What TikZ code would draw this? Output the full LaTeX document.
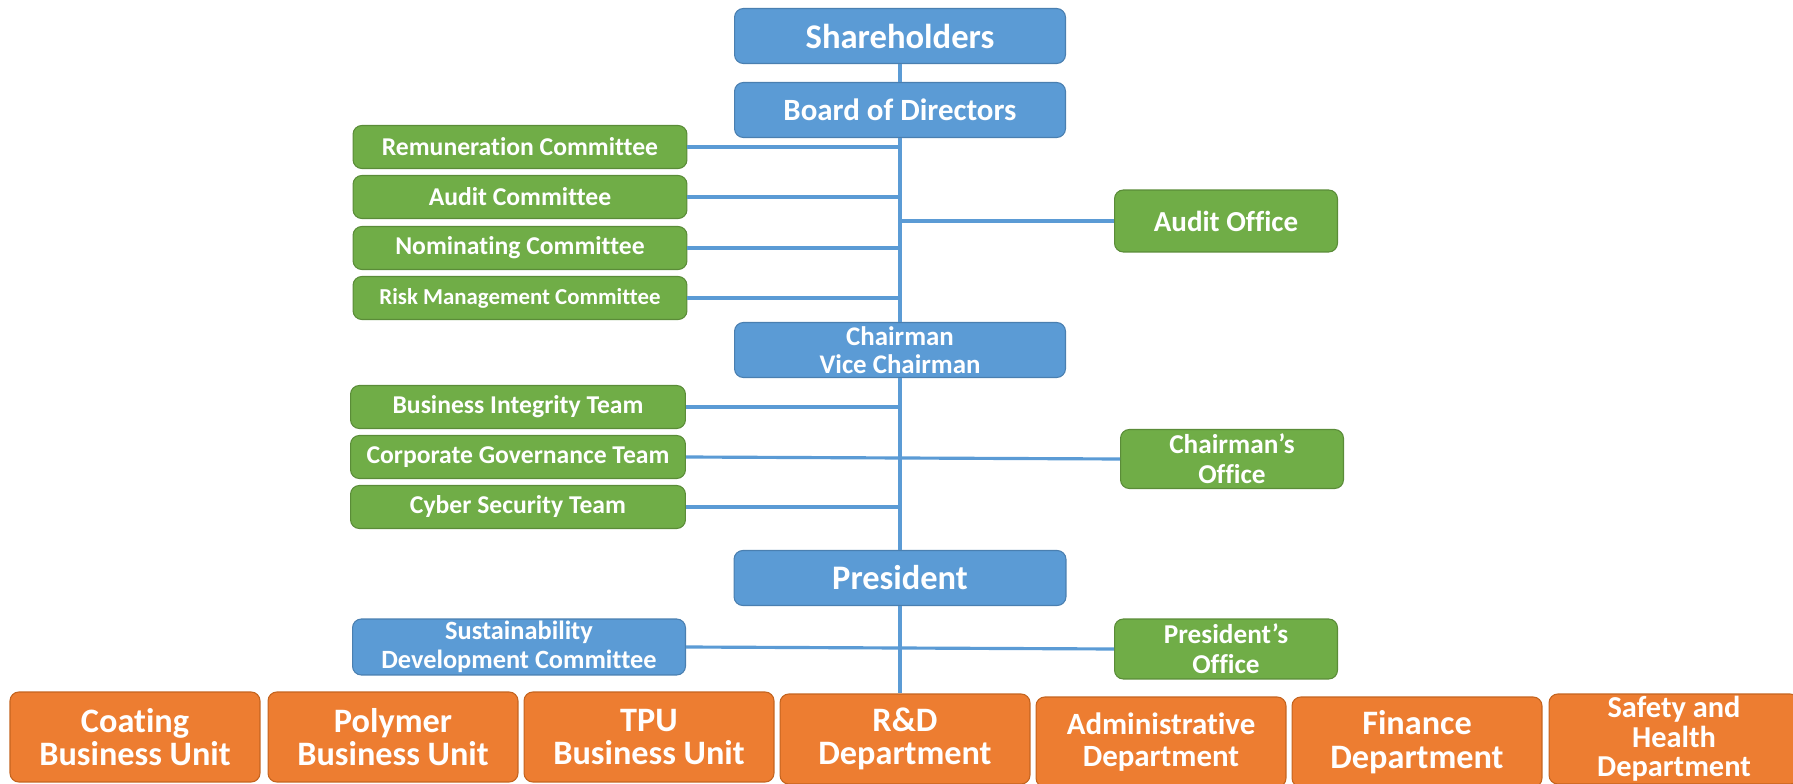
\documentclass[tikz,border=0pt]{standalone}
\usepackage{fontspec}
\setmainfont{Carlito}[Ligatures=NoCommon]
\usepackage{tikz}

\definecolor{unitblue}{HTML}{5B9BD5}
\definecolor{unitblueedge}{HTML}{4A7FB0}
\definecolor{unitgreen}{HTML}{70AD47}
\definecolor{unitgreenedge}{HTML}{5A8C38}
\definecolor{unitorange}{HTML}{ED7D31}
\definecolor{unitorangeedge}{HTML}{C4641F}
\newcommand{\unitfont}[2]{\fontsize{#1}{#2}\selectfont\bfseries}

\begin{document}
\begin{tikzpicture}[x=0.02cm,y=-0.02cm,draw=unitblue,line width=1.8pt]
    \tikzstyle{unit}=[rounded corners=5pt,inner sep=0pt,align=center,text=white,line width=0.6pt]
    \tikzstyle{blue unit}=[unit,fill=unitblue,draw=unitblueedge]
    \tikzstyle{green unit}=[unit,fill=unitgreen,draw=unitgreenedge]
    \tikzstyle{orange unit}=[unit,fill=unitorange,draw=unitorangeedge,minimum width=5cm,minimum height=1.8cm]
    \tikzstyle{wide}=[minimum width=6.62cm,minimum height=1.1cm]
    \tikzstyle{committee}=[green unit,minimum width=6.68cm,minimum height=0.86cm,font=\unitfont{14.6}{16}]
    \tikzstyle{office}=[green unit,minimum width=4.46cm,font=\unitfont{15.5}{17}]

    \useasboundingbox (0,0) rectangle (1793,784);

    % Draw the board level
    \node[blue unit,wide,font=\unitfont{19.7}{21}] (SH) at (900,36) {Shareholders};
    \node[blue unit,wide,font=\unitfont{17.6}{19}] (BD) at (900,110) {Board of Directors};
    \node[committee] (C-1) at (520,147) {Remuneration Committee};
    \node[committee] (C-2) at (520,197) {Audit Committee};
    \node[committee] (C-3) at (520,248) {Nominating Committee};
    \node[committee,font=\unitfont{13}{14}] (C-4) at (520,298) {Risk Management Committee};
    \node[office,minimum height=1.24cm,font=\unitfont{16.5}{18}] (AO) at (1226,221) {Audit Office};

    % Draw the chairman level
    \node[blue unit,wide,font=\unitfont{15.3}{16}] (CH) at (900,350) {Chairman\\Vice Chairman};
    \node[committee,minimum width=6.7cm] (T-1) at (518,407) {Business Integrity Team};
    \node[committee,minimum width=6.7cm] (T-2) at (518,457) {Corporate Governance Team};
    \node[committee,minimum width=6.7cm] (T-3) at (518,507) {Cyber Security Team};
    \node[office,minimum height=1.18cm] (CO) at (1232,459) {Chairman’s\\Office};

    % Draw the president level
    \node[blue unit,wide,minimum width=6.64cm,font=\unitfont{19.6}{21}] (PR) at (900,578) {President};
    \node[blue unit,minimum width=6.66cm,minimum height=1.12cm,font=\unitfont{15}{16.5}] (SD) at (519,647) {Sustainability\\Development Committee};
    \node[office,minimum height=1.2cm] (PO) at (1226,649) {President’s\\Office};

    % Draw the business units and departments
    \node[orange unit,font=\unitfont{19.5}{19}] (U-1) at (135,737) {Coating\\Business Unit};
    \node[orange unit,font=\unitfont{19.5}{19}] (U-2) at (393,737) {Polymer\\Business Unit};
    \node[orange unit,font=\unitfont{19.5}{19}] (U-3) at (649,737) {TPU\\Business Unit};
    \node[orange unit,font=\unitfont{19.5}{19}] (D-1) at (905,739) {R\&D\\Department};
    \node[orange unit,font=\unitfont{17.6}{18.5}] (D-2) at (1161,742) {Administrative\\Department};
    \node[orange unit,font=\unitfont{19.5}{19}] (D-3) at (1417,742) {Finance\\Department};
    \node[orange unit,font=\unitfont{17.3}{16.8}] (D-4) at (1674,739) {Safety and\\Health\\Department};

    % Connect the main line
    \path (SH) edge (BD);
    \path (BD) edge (CH);
    \path (CH) edge (PR);
    \draw (PR.south) -- (PR.south |- D-1.north);

    % Connect the side boxes
    \foreach \n in {1,...,4}
        \draw (C-\n.east) -- (C-\n.east -| BD.south);
    \draw (AO.west) -- (AO.west -| BD.south);
    \draw (T-1.east) -- (T-1.east -| CH.south);
    \draw (T-3.east) -- (T-3.east -| CH.south);
    \path (T-2.east) edge (CO.west);
    \path (SD.east) edge (PO.west);
\end{tikzpicture}
\end{document}
